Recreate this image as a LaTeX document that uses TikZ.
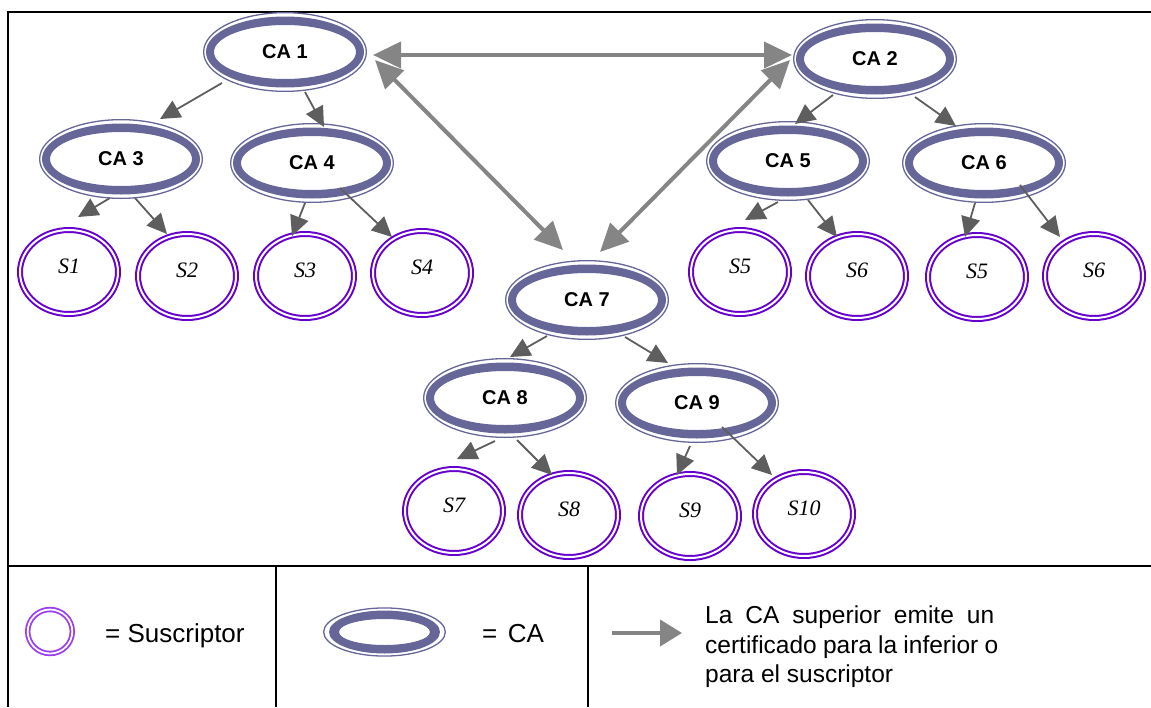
\documentclass[tikz,border=0pt]{standalone}
\usepackage{fontspec}
\setmainfont{Liberation Serif}
\setsansfont{Liberation Sans}
\usetikzlibrary{shapes.geometric,arrows.meta}
\definecolor{caC}{HTML}{666699}
\definecolor{subC}{HTML}{6600CC}
\definecolor{subL}{HTML}{9A3DF0}
\definecolor{arrD}{HTML}{5E5E5E}
\definecolor{arrL}{HTML}{858585}
\begin{document}
\begin{tikzpicture}[x=1pt,y=-1pt,
  frame/.style={draw=black,line width=2pt},
  caband/.style n args={4}{path picture={\fill[caC,even odd rule]
      (path picture bounding box.center) ellipse [x radius=#1, y radius=#2]
      (path picture bounding box.center) ellipse [x radius=#3, y radius=#4];}},
  cabase/.style={ellipse,draw=caC,line width=1.3pt,inner sep=0pt,
      font=\sffamily\bfseries\fontsize{20}{22}\selectfont},
  canode/.style={cabase,minimum width=162.7pt,minimum height=78.7pt,
      caband={79pt}{35.5pt}{71pt}{27pt}},
  calegend/.style={cabase,minimum width=121.7pt,minimum height=48.1pt,
      caband={55.5pt}{21.5pt}{45.5pt}{13pt}},
  subnode/.style={ellipse,draw=subC,double=white,double distance=2pt,
      line width=2pt,minimum width=98pt,minimum height=84pt,inner sep=0pt,
      text depth=12pt,font=\itshape\fontsize{22}{24}\selectfont},
  subleg/.style={ellipse,draw=subL,double=white,double distance=1.8pt,
      line width=1.8pt,minimum width=44.6pt,minimum height=44pt,inner sep=0pt},
  smallarr/.style={draw=arrD,line width=1.8pt,-{Triangle[length=20pt,width=19pt]}},
  bigarr/.style={draw=arrL,line width=4pt,
      {Triangle[length=28pt,width=26pt]}-{Triangle[length=28pt,width=26pt]}},
  legarr/.style={draw=arrL,line width=4pt,-{Triangle[length=22pt,width=26pt]}},
  legtext/.style={inner sep=0pt,font=\sffamily\fontsize{26}{28}\selectfont},
  legsmall/.style={inner sep=0pt,font=\sffamily\fontsize{24.5}{29}\selectfont}]
\useasboundingbox (0,0) rectangle (1151,707);

% outer frame and legend cells
\draw[frame] (8,707) -- (8,12) -- (1151,12);
\draw[frame] (8,566) -- (1151,566);
\draw[frame] (275.5,566) -- (275.5,707);
\draw[frame] (587.5,566) -- (587.5,707);

% certification authorities
\node[canode] (ca1) at (285,52) {CA 1};
\node[canode] (ca2) at (875,59) {CA 2};
\node[canode] (ca3) at (121,159) {CA 3};
\node[canode] (ca4) at (312,163) {CA 4};
\node[canode] (ca5) at (788,161) {CA 5};
\node[canode] (ca6) at (984,163) {CA 6};
\node[canode] (ca7) at (587,300) {CA 7};
\node[canode] (ca8) at (505,398) {CA 8};
\node[canode] (ca9) at (697,403) {CA 9};

% subscribers
\node[subnode] (s1) at (69,272) {S1};
\node[subnode] (s2) at (187,276) {S2};
\node[subnode] (s3) at (305,276) {S3};
\node[subnode] (s4) at (422,273) {S4};
\node[subnode] (s5) at (740,272) {S5};
\node[subnode] (s6) at (857,276) {S6};
\node[subnode] (s5b) at (977,277) {S5};
\node[subnode] (s6b) at (1094,276) {S6};
\node[subnode] (s7) at (454,511) {S7};
\node[subnode] (s8) at (569,515) {S8};
\node[subnode] (s9) at (690,516) {S9};
\node[subnode] (s10) at (804,514) {S10};

% issuing relations
\draw[smallarr] ([shift={(-63,31)}]ca1.center) -- ([shift={(39,-40)}]ca3.center);
\draw[smallarr] ([shift={(20,40)}]ca1.center) -- ([shift={(12,-36)}]ca4.center);
\draw[smallarr] ([shift={(-11,39)}]ca3.center) -- ([shift={(9,-55)}]s1.center);
\draw[smallarr] ([shift={(14,39)}]ca3.center) -- ([shift={(-20,-42)}]s2.center);
\draw[smallarr] ([shift={(-7,40)}]ca4.center) -- ([shift={(-13,-40)}]s3.center);
\draw[smallarr] ([shift={(28,25)}]ca4.center) -- ([shift={(-30,-36)}]s4.center);
\draw[smallarr] ([shift={(-42,36)}]ca2.center) -- ([shift={(7,-37)}]ca5.center);
\draw[smallarr] ([shift={(40,38)}]ca2.center) -- ([shift={(-28,-37)}]ca6.center);
\draw[smallarr] ([shift={(-10,41)}]ca5.center) -- ([shift={(5,-52)}]s5.center);
\draw[smallarr] ([shift={(20,39)}]ca5.center) -- ([shift={(-20,-39)}]s6.center);
\draw[smallarr] ([shift={(-9,40)}]ca6.center) -- ([shift={(-12,-40)}]s5b.center);
\draw[smallarr] ([shift={(36,22)}]ca6.center) -- ([shift={(-34,-39)}]s6b.center);
\draw[smallarr] ([shift={(-40,36)}]ca7.center) -- ([shift={(5,-41)}]ca8.center);
\draw[smallarr] ([shift={(38,37)}]ca7.center) -- ([shift={(-29,-40)}]ca9.center);
\draw[smallarr] ([shift={(-10,43)}]ca8.center) -- ([shift={(3,-52)}]s7.center);
\draw[smallarr] ([shift={(12,42)}]ca8.center) -- ([shift={(-17,-40)}]s8.center);
\draw[smallarr] ([shift={(-7,43)}]ca9.center) -- ([shift={(-13,-41)}]s9.center);
\draw[smallarr] ([shift={(25,24)}]ca9.center) -- ([shift={(-32,-39)}]s10.center);

% cross certification
\draw[bigarr] ([shift={(88,3)}]ca1.center) -- ([shift={(-83,-4)}]ca2.center);
\draw[bigarr] ([shift={(90,8)}]ca1.center) -- ([shift={(-24,-50)}]ca7.center);
\draw[bigarr] ([shift={(-85,1)}]ca2.center) -- ([shift={(13,-48)}]ca7.center);

% legend
\node[subleg] (lsub) at (50,631.5) {};
\node[legtext,anchor=base west] (lsubt) at (105,642) {= Suscriptor};
\node[calegend] (lca) at (384.5,632) {};
\node[legtext,anchor=base west] (lcat) at (482,642) {=\hspace{0.4em}CA};
\coordinate (larA) at (612,633);
\coordinate (larB) at (682,633);
\draw[legarr] (larA) -- (larB);
\node[legsmall,anchor=base west] (lt1) at (705,623) {\makebox[289pt][s]{La CA superior emite un}};
\node[legsmall,anchor=base west] (lt2) at (705,653) {\makebox[293pt][s]{certificado para la inferior o}};
\node[legsmall,anchor=base west] (lt3) at (705,682) {para el suscriptor};
\end{tikzpicture}
\end{document}
